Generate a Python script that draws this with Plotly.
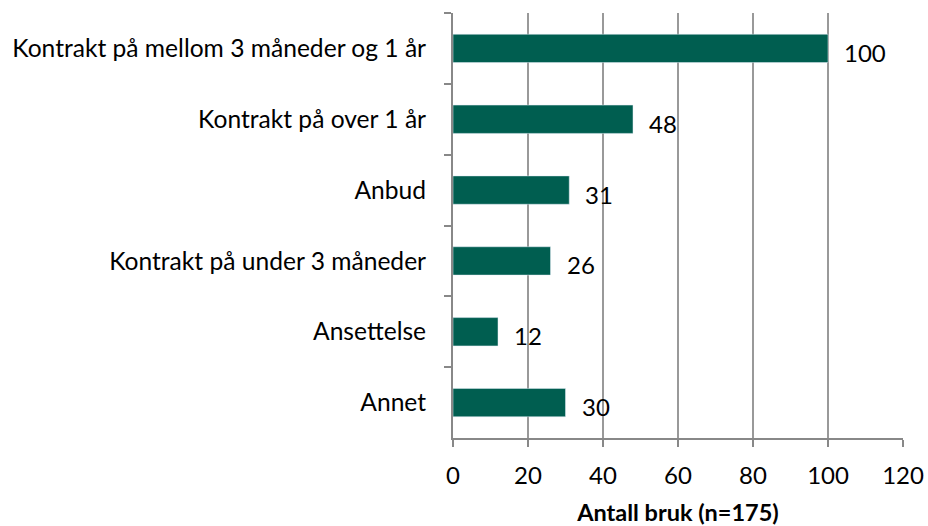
import plotly.graph_objects as go

categories = ["Kontrakt på mellom 3 måneder og 1 år", "Kontrakt på over 1 år", "Anbud",
              "Kontrakt på under 3 måneder", "Ansettelse", "Annet"]
values = [100, 48, 31, 26, 12, 30]
x_ticks = [0, 20, 40, 60, 80, 100, 120]

font_family = "Lato"

fig = go.Figure(go.Bar(
    x=values, y=categories, orientation="h",
    marker=dict(color="#005e50"), width=0.4,
    hoverinfo="x+y",
))

for c, v in zip(categories, values):
    fig.add_annotation(x=v, y=c, text=str(v), showarrow=False, xanchor="left",
                       xshift=14, yshift=-4, font=dict(size=24, color="#000000", family=font_family))

fig.update_layout(
    width=928, height=526,
    margin=dict(l=453, r=25, t=13, b=88),
    plot_bgcolor="white", paper_bgcolor="white",
    showlegend=False,
    font=dict(family=font_family, size=24, color="#000000"),
    xaxis=dict(range=[0, 120], tickvals=x_ticks, showgrid=True, gridcolor="#999999", gridwidth=1.5,
               showline=True, linecolor="#888888", linewidth=2, ticks="outside", ticklen=7,
               tickcolor="#888888", tickwidth=2, zeroline=False,
               title=dict(text="<b>Antall bruk (n=175)</b>", font=dict(size=23.5), standoff=18),
               tickfont=dict(size=24), ticklabelstandoff=8, automargin=False),
    yaxis=dict(autorange="reversed", showline=True, linecolor="#888888", linewidth=2,
               ticks="outside", tickson="boundaries", ticklen=7, tickcolor="#888888", tickwidth=2,
               showgrid=False, tickfont=dict(size=24.6), ticklabelstandoff=20, automargin=False),
)

fig.write_html("out.html", config={"displayModeBar": False},
               post_script="document.body.style.margin='0';")
